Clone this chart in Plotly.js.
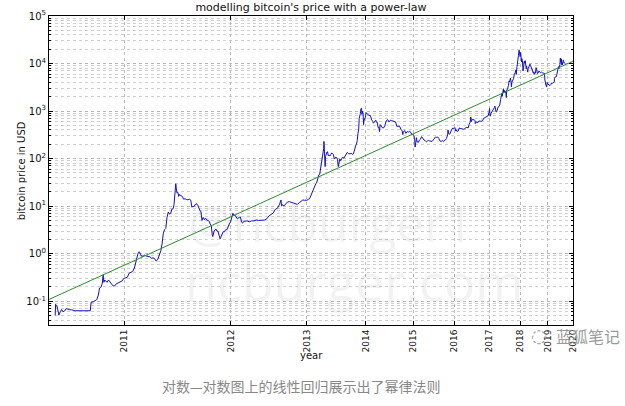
<!DOCTYPE html>
<html><head><meta charset="utf-8">
<script src="https://cdn.plot.ly/plotly-3.0.1.min.js"></script>
<style>html,body{margin:0;padding:0;background:#fff}#chart{width:625px;height:406px}</style>
</head><body><div id="chart"></div>
<script>
// Price history (date, USD)
const priceDates = [
"2010-07-17","2010-07-18","2010-07-19","2010-07-21","2010-07-23","2010-07-25","2010-07-28","2010-07-31","2010-08-03","2010-08-06","2010-08-10","2010-08-14","2010-08-18","2010-08-22","2010-08-26","2010-08-30",
"2010-10-05","2010-10-07","2010-10-12","2010-10-17","2010-10-21","2010-10-25","2010-10-28","2010-11-01","2010-11-04","2010-11-06","2010-11-08","2010-11-10","2010-11-13","2010-11-16","2010-11-20","2010-11-24","2010-11-28","2010-12-02","2010-12-06","2010-12-10","2010-12-14","2010-12-18","2010-12-22","2010-12-27","2010-12-31",
"2011-01-05","2011-01-10","2011-01-15","2011-01-20","2011-01-25","2011-01-30","2011-02-03","2011-02-07","2011-02-10","2011-02-13","2011-02-16","2011-02-20","2011-02-25","2011-03-01","2011-03-06","2011-03-12","2011-03-17","2011-03-22","2011-03-27","2011-04-01","2011-04-05","2011-04-10","2011-04-15","2011-04-20","2011-04-24","2011-04-28","2011-05-02","2011-05-06","2011-05-10","2011-05-14","2011-05-18","2011-05-22","2011-05-26","2011-05-30","2011-06-02","2011-06-05","2011-06-08","2011-06-10","2011-06-12","2011-06-15","2011-06-18","2011-06-20","2011-06-25","2011-06-30","2011-07-05","2011-07-10","2011-07-15","2011-07-20","2011-07-25","2011-07-30","2011-08-03","2011-08-07","2011-08-10","2011-08-15","2011-08-18","2011-08-23","2011-08-28","2011-09-01","2011-09-05","2011-09-09","2011-09-13","2011-09-18","2011-09-22","2011-09-27","2011-10-02","2011-10-06","2011-10-10","2011-10-14","2011-10-18","2011-10-20","2011-10-25","2011-10-28","2011-11-01","2011-11-05","2011-11-10","2011-11-14","2011-11-18","2011-11-22","2011-11-26","2011-11-30","2011-12-05","2011-12-10","2011-12-15","2011-12-20","2011-12-25","2011-12-30",
"2012-01-05","2012-01-09","2012-01-12","2012-01-16","2012-01-20","2012-01-25","2012-01-30","2012-02-05","2012-02-10","2012-02-15","2012-02-20","2012-02-25","2012-03-01","2012-03-10","2012-03-20","2012-03-30","2012-04-10","2012-04-20","2012-04-30","2012-05-10","2012-05-20","2012-05-30","2012-06-10","2012-06-20","2012-06-30","2012-07-10","2012-07-20","2012-07-30","2012-08-10","2012-08-17","2012-08-20","2012-08-25","2012-09-01","2012-09-10","2012-09-20","2012-09-30","2012-10-10","2012-10-20","2012-10-30","2012-11-10","2012-11-20","2012-11-30","2012-12-10","2012-12-20","2012-12-30",
"2013-01-05","2013-01-10","2013-01-15","2013-01-20","2013-01-25","2013-01-30","2013-02-05","2013-02-10","2013-02-15","2013-02-20","2013-02-25","2013-03-01","2013-03-05","2013-03-10","2013-03-15","2013-03-20","2013-03-25","2013-03-30","2013-04-03","2013-04-07","2013-04-09","2013-04-10","2013-04-12","2013-04-14","2013-04-16","2013-04-18","2013-04-22","2013-04-26","2013-04-30","2013-05-05","2013-05-10","2013-05-15","2013-05-20","2013-05-25","2013-05-30","2013-06-05","2013-06-10","2013-06-15","2013-06-20","2013-06-25","2013-06-30","2013-07-05","2013-07-08","2013-07-15","2013-07-20","2013-07-25","2013-07-31","2013-08-10","2013-08-20","2013-08-31","2013-09-10","2013-09-20","2013-09-30","2013-10-05","2013-10-10","2013-10-15","2013-10-20","2013-10-25","2013-10-31","2013-11-05","2013-11-10","2013-11-15","2013-11-18","2013-11-22","2013-11-26","2013-11-30","2013-12-04","2013-12-07","2013-12-10","2013-12-15","2013-12-18","2013-12-21","2013-12-25","2013-12-31",
"2014-01-05","2014-01-10","2014-01-15","2014-01-20","2014-01-25","2014-01-31","2014-02-05","2014-02-10","2014-02-15","2014-02-20","2014-02-25","2014-03-01","2014-03-10","2014-03-15","2014-03-20","2014-03-25","2014-03-31","2014-04-05","2014-04-10","2014-04-15","2014-04-20","2014-04-25","2014-04-30","2014-05-10","2014-05-20","2014-05-31","2014-06-05","2014-06-10","2014-06-20","2014-06-30","2014-07-10","2014-07-20","2014-07-31","2014-08-10","2014-08-18","2014-08-31","2014-09-10","2014-09-20","2014-09-30","2014-10-05","2014-10-10","2014-10-20","2014-10-31","2014-11-10","2014-11-20","2014-11-30","2014-12-10","2014-12-20","2014-12-31",
"2015-01-05","2015-01-10","2015-01-14","2015-01-17","2015-01-20","2015-01-26","2015-01-31","2015-02-10","2015-02-20","2015-02-28","2015-03-10","2015-03-20","2015-03-31","2015-04-10","2015-04-20","2015-04-30","2015-05-10","2015-05-20","2015-05-31","2015-06-10","2015-06-20","2015-06-30","2015-07-10","2015-07-20","2015-07-31","2015-08-10","2015-08-20","2015-08-31","2015-09-10","2015-09-20","2015-09-30","2015-10-10","2015-10-20","2015-10-31","2015-11-04","2015-11-10","2015-11-20","2015-11-30","2015-12-10","2015-12-20","2015-12-31",
"2016-01-10","2016-01-15","2016-01-20","2016-01-31","2016-02-10","2016-02-20","2016-02-29","2016-03-10","2016-03-20","2016-03-31","2016-04-10","2016-04-20","2016-04-30","2016-05-10","2016-05-20","2016-05-31","2016-06-10","2016-06-17","2016-06-22","2016-06-30","2016-07-10","2016-07-20","2016-07-31","2016-08-02","2016-08-10","2016-08-20","2016-08-31","2016-09-10","2016-09-20","2016-09-30","2016-10-10","2016-10-20","2016-10-31","2016-11-10","2016-11-20","2016-11-30","2016-12-10","2016-12-20","2016-12-31",
"2017-01-04","2017-01-07","2017-01-11","2017-01-15","2017-01-20","2017-01-31","2017-02-10","2017-02-20","2017-02-28","2017-03-05","2017-03-10","2017-03-18","2017-03-25","2017-03-31","2017-04-10","2017-04-20","2017-04-30","2017-05-10","2017-05-20","2017-05-25","2017-05-28","2017-06-05","2017-06-11","2017-06-15","2017-06-20","2017-06-30","2017-07-05","2017-07-10","2017-07-16","2017-07-20","2017-07-31","2017-08-05","2017-08-10","2017-08-17","2017-08-22","2017-08-31","2017-09-02","2017-09-10","2017-09-15","2017-09-20","2017-09-30","2017-10-10","2017-10-20","2017-10-31","2017-11-08","2017-11-12","2017-11-20","2017-11-28","2017-12-05","2017-12-10","2017-12-17","2017-12-22","2017-12-28","2017-12-31",
"2018-01-06","2018-01-10","2018-01-17","2018-01-20","2018-01-28","2018-02-05","2018-02-10","2018-02-20","2018-02-28","2018-03-05","2018-03-10","2018-03-18","2018-03-22","2018-03-31","2018-04-06","2018-04-12","2018-04-20","2018-04-25","2018-05-05","2018-05-10","2018-05-20","2018-05-29","2018-06-05","2018-06-12","2018-06-20","2018-06-29","2018-07-05","2018-07-15","2018-07-24","2018-07-31","2018-08-10","2018-08-14","2018-08-20","2018-08-31","2018-09-05","2018-09-15","2018-09-25","2018-10-05","2018-10-15","2018-10-25","2018-11-05","2018-11-14","2018-11-20","2018-11-25","2018-11-30","2018-12-07","2018-12-15","2018-12-20","2018-12-31",
"2019-01-10","2019-01-20","2019-01-31","2019-02-10","2019-02-20","2019-02-28","2019-03-10","2019-03-20","2019-03-31","2019-04-03","2019-04-10","2019-04-20","2019-04-30","2019-05-10","2019-05-15","2019-05-20","2019-05-30","2019-06-05","2019-06-15","2019-06-20","2019-06-26","2019-06-28","2019-07-02","2019-07-09","2019-07-17","2019-07-20","2019-07-28","2019-08-05","2019-08-08","2019-08-12","2019-08-20","2019-09-01"
];
const priceValues = [
0.05,0.086,0.08,0.079,0.055,0.051,0.06,0.067,0.06,0.062,0.07,0.067,0.066,0.066,0.065,0.063,
0.063,0.095,0.097,0.102,0.108,0.135,0.19,0.2,0.24,0.36,0.25,0.28,0.27,0.25,0.28,0.26,0.23,0.21,0.21,0.23,0.24,0.25,0.26,0.27,0.3,
0.31,0.32,0.39,0.4,0.42,0.5,0.7,0.88,1.05,1.1,1.0,0.88,0.9,0.93,0.89,0.88,0.86,0.8,0.82,0.78,0.7,0.75,0.95,1.15,1.6,2.7,3.2,3.4,5.8,7.5,6.8,7.0,8.7,8.8,10.6,16,29.6,23,19,19.5,16,17.5,16.5,16.1,14,14.3,13.8,13.6,14,13.4,9.5,10,9.8,11,11.3,10.8,9,8.2,7.6,5.0,5.8,5.2,5.6,5.1,5.0,4.8,4.2,3.9,2.5,2.3,3.0,3.2,3.3,3.0,2.95,2.4,2.05,2.3,2.5,2.9,2.9,3.2,3.2,3.9,4.2,4.6,
6.0,7.1,6.6,6.4,6.3,5.6,5.5,5.8,5.9,4.6,4.4,4.8,4.9,4.9,4.7,4.9,4.9,5.1,5.0,5.0,5.1,5.1,5.5,6.3,6.7,7.2,8.6,9.0,11.0,13.5,10,10.8,10.1,11.0,12.3,12.4,12.0,11.6,11.0,10.9,11.8,12.6,13.5,13.3,13.5,
13.4,14.2,14.3,15.6,17.4,19.6,20.6,24,27,29.5,30.5,34.5,40,46,47,64,78,93,135,162,230,165,110,90,68,110,125,137,139,115,118,114,122,131,129,121,100,100,108,102,97,68,76,98,90,95,106,103,116,135,126,126,128,122,126,140,168,185,203,240,340,420,700,750,880,1130,1150,850,990,880,520,620,680,745,
930,860,850,830,820,820,800,680,650,600,560,570,630,640,580,580,450,460,370,520,500,460,450,440,500,630,650,660,590,640,630,620,590,590,480,480,480,410,390,320,360,390,340,370,360,380,350,320,320,
275,275,175,210,215,275,225,220,245,255,290,260,245,240,225,235,240,235,230,230,245,265,285,280,285,265,235,230,240,230,236,245,265,315,400,335,325,375,415,440,430,
450,380,410,370,380,440,435,415,410,415,420,445,450,455,440,530,580,750,600,670,650,665,625,545,590,580,575,620,610,610,615,630,700,715,740,745,775,800,965,
1130,900,780,820,895,970,1000,1080,1190,1270,1110,970,960,1080,1210,1240,1350,1760,2050,2400,2050,2700,2950,2430,2750,2480,2600,2380,1930,2800,2870,3250,3420,4300,4100,4700,4900,4100,3250,4050,4340,4780,5980,6450,7400,5900,8200,9800,11600,15000,19200,14000,14700,13900,
17100,14500,10900,12800,11500,7000,8100,11200,10300,11500,8800,7800,8900,6900,6600,7900,8900,8800,9700,9000,8500,7500,7600,6500,6700,5900,6500,6300,8200,7700,6100,6200,6300,7000,6500,6500,6400,6600,6400,6400,6400,6200,4500,3900,4000,3400,3200,4000,3700,
3600,3500,3450,3600,3900,3800,3900,4000,4100,4900,5200,5300,5300,6300,8000,8000,8600,7800,8700,9500,13000,12300,10600,12600,9400,10500,9500,11700,11900,11400,10200,10300
];
// Power-law fit line end points
const fitDates = ["2010-07-04", "2020-01-01"];
const fitValues = [0.109, 11200];
// Tick labels
const yearLabels = ["2011","2012","2013","2014","2015","2016","2017","2018","2019","2020"];
const yTickExp = [-1, 0, 1, 2, 3, 4, 5];

const genesis = Date.UTC(2009, 0, 3);
function daysSince(s) {
  const p = s.split("-").map(Number);
  return (Date.UTC(p[0], p[1]-1, p[2]) - genesis) / 86400000;
}
const xPrice = priceDates.map(daysSince);
const xFit = fitDates.map(daysSince);
const xTicks = yearLabels.map(y => daysSince(y + "-01-01"));

const FONT = "DejaVu Sans, sans-serif";
const gridCol = "#b8b8b8";

const traces = [
  {x: xPrice, y: priceValues, type: "scatter", mode: "lines",
   line: {color: "#1010c8", width: 1}, hoverinfo: "skip"},
  {x: xFit, y: fitValues, type: "scatter", mode: "lines",
   line: {color: "#2e8b2e", width: 1}, hoverinfo: "skip"}
];

const layout = {
  width: 625, height: 406,
  margin: {l: 49, r: 52, t: 16, b: 81, pad: 0},
  paper_bgcolor: "#fff", plot_bgcolor: "#fff",
  showlegend: false,
  font: {family: FONT, size: 10, color: "#000"},
  title: {text: "modelling bitcoin's price with a power-law", font: {family: FONT, size: 11, color: "#111"},
          x: 0.5, xref: "paper", y: 1, yref: "container", yanchor: "top", pad: {t: 3}},
  xaxis: {
    type: "log", range: [Math.log10(daysSince("2010-07-04")), Math.log10(daysSince("2020-01-01"))],
    tickmode: "array", tickvals: xTicks, ticktext: yearLabels, tickangle: -90,
    tickfont: {family: FONT, size: 9, color: "#111"},
    ticks: "inside", ticklen: 4, tickcolor: "#000",
    showline: true, linecolor: "#000", linewidth: 1, mirror: "ticks",
    showgrid: true, gridcolor: gridCol, griddash: "dot", gridwidth: 1,
    zeroline: false, fixedrange: true
  },
  yaxis: {
    type: "log", range: [-1.5, 5],
    tickmode: "array", tickvals: yTickExp.map(e => Math.pow(10, e)),
    ticktext: yTickExp.map(e => "10<sup>" + e + "</sup>"),
    tickfont: {family: FONT, size: 10, color: "#111"},
    ticks: "inside", ticklen: 4, tickcolor: "#000",
    showline: true, linecolor: "#000", linewidth: 1, mirror: "ticks",
    showgrid: true, gridcolor: gridCol, griddash: "dot", gridwidth: 1,
    minor: {dtick: "D1", ticks: "inside", ticklen: 2, tickcolor: "#000", showgrid: true, gridcolor: "#d0d0d0", griddash: "dot", gridwidth: 1},
    zeroline: false, fixedrange: true
  },
  annotations: [
    {text: "bitcoin price in USD", xref: "paper", yref: "paper", x: -0.052, y: 0.5, xanchor: "center", yanchor: "middle",
     textangle: -90, showarrow: false, font: {family: FONT, size: 10, color: "#111"}},
    {text: "year", xref: "paper", yref: "paper", x: 0.501, y: -0.1, xanchor: "center", yanchor: "middle",
     showarrow: false, font: {family: FONT, size: 10, color: "#111"}},
    {text: "@ncburger1", xref: "paper", yref: "paper", x: 0.538, y: 0.33, xanchor: "center", yanchor: "middle",
     showarrow: false, font: {family: "Open Sans, sans-serif", size: 50, color: "rgba(0,0,0,0.05)"}},
    {text: "ncburger.com", xref: "paper", yref: "paper", x: 0.582, y: 0.145, xanchor: "center", yanchor: "middle",
     showarrow: false, font: {family: "Open Sans, sans-serif", size: 52, color: "rgba(0,0,0,0.05)"}},
    {text: "对数—对数图上的线性回归展示出了幂律法则", xref: "paper", yref: "paper", x: 0.481, y: -0.197, xanchor: "center", yanchor: "middle",
     showarrow: false, font: {family: "Noto Sans CJK SC, sans-serif", size: 14, color: "#888"}},
    {text: "◌", xref: "paper", yref: "paper", x: 0.935, y: -0.035, xanchor: "center", yanchor: "middle",
     showarrow: false, font: {family: "DejaVu Sans, sans-serif", size: 18, color: "#9a9a9a"}},
    {text: "蓝狐笔记", xref: "paper", yref: "paper", x: 1.094, y: -0.035, xanchor: "right", yanchor: "middle",
     showarrow: false, font: {family: "Noto Sans CJK SC, sans-serif", size: 16, color: "#9a9a9a"}}
  ]
};

Plotly.newPlot("chart", traces, layout, {staticPlot: true, displayModeBar: false});
</script>
</body></html>
